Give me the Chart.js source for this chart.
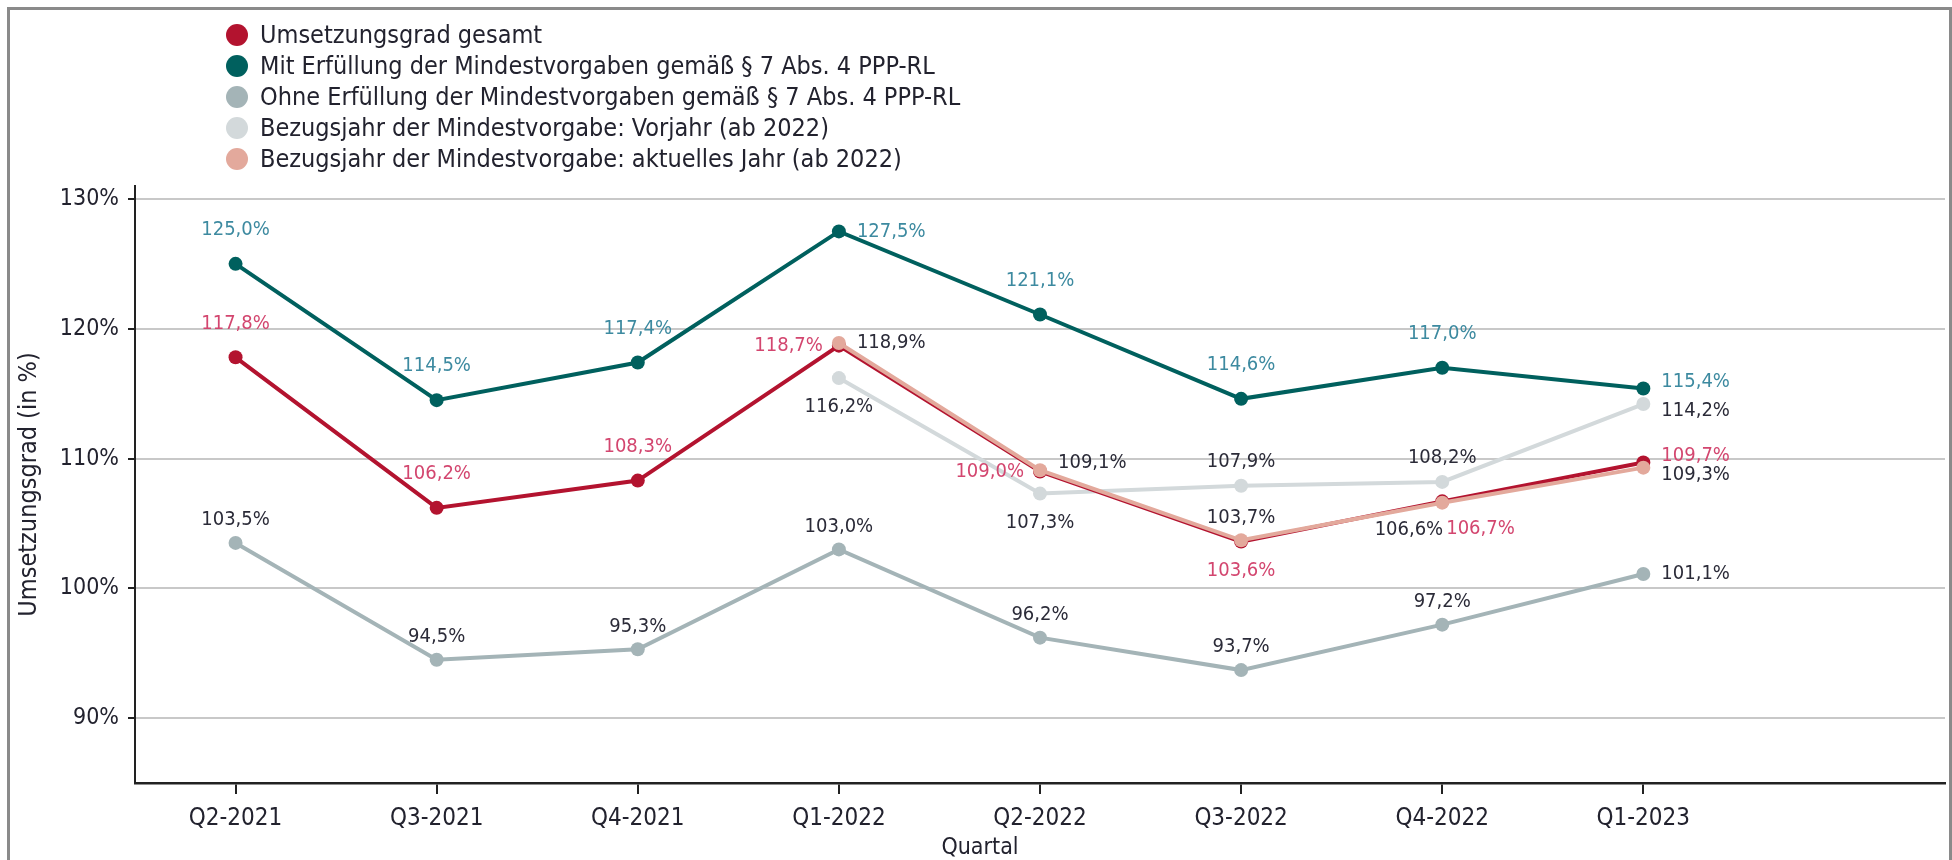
<!DOCTYPE html>
<html lang="de">
<head>
<meta charset="utf-8">
<title>Umsetzungsgrad</title>
<script src="https://cdn.jsdelivr.net/npm/chart.js@4.4.1/dist/chart.umd.min.js"></script>
<style>
  html, body { margin: 0; padding: 0; background: #fff; }
  body { width: 1952px; height: 860px; overflow: hidden; position: relative; font-family: 'DejaVu Sans Condensed', 'Liberation Sans Narrow', sans-serif; }
  .frame { position: absolute; left: 7px; top: 7px; width: 1945px; height: 900px; border: 3px solid #8a8a8a; box-sizing: border-box; pointer-events: none; }
  .chart-wrap { position: absolute; left: 0; top: 0; width: 1952px; height: 860px; }
  .legend { position: absolute; left: 226px; top: 19px; margin: 0; padding: 0; list-style: none; }
  .legend li { height: 31px; display: flex; align-items: center; font-size: 25px; color: #22222e; white-space: nowrap; }
  .legend .dot { width: 22px; height: 22px; border-radius: 50%; margin-right: 12px; flex: none; }
</style>
</head>
<body>
<div class="chart-wrap"><canvas id="chart"></canvas></div>
<ul class="legend" id="legend"></ul>
<div class="frame"></div>
<script>
const QUARTERS = ['Q2-2021', 'Q3-2021', 'Q4-2021', 'Q1-2022', 'Q2-2022', 'Q3-2022', 'Q4-2022', 'Q1-2023'];
const Y_TICKS = [90, 100, 110, 120, 130];

const GESAMT = [117.8, 106.2, 108.3, 118.7, 109.0, 103.6, 106.7, 109.7];
const MIT = [125.0, 114.5, 117.4, 127.5, 121.1, 114.6, 117.0, 115.4];
const OHNE = [103.5, 94.5, 95.3, 103.0, 96.2, 93.7, 97.2, 101.1];
const VORJAHR = [null, null, null, 116.2, 107.3, 107.9, 108.2, 114.2];
const AKTUELL = [null, null, null, 118.9, 109.1, 103.7, 106.6, 109.3];

const NAMES = [
  'Umsetzungsgrad gesamt',
  'Mit Erfüllung der Mindestvorgaben gemäß § 7 Abs. 4 PPP-RL',
  'Ohne Erfüllung der Mindestvorgaben gemäß § 7 Abs. 4 PPP-RL',
  'Bezugsjahr der Mindestvorgabe: Vorjahr (ab 2022)',
  'Bezugsjahr der Mindestvorgabe: aktuelles Jahr (ab 2022)',
];

// where each value label sits relative to its point
const POS_GESAMT = ['t', 't', 't', 'l', 'l', 'b', 'br', 'ru'];
const POS_MIT = ['t', 't', 't', 'r', 't', 't', 't', 'ru'];
const POS_OHNE = ['t', 't', 't', 't', 't', 't', 't', 'r'];
const POS_VORJAHR = [null, null, null, 'b', 'b', 't', 't', 'rd'];
const POS_AKTUELL = [null, null, null, 'r', 'ru', 't', 'bl', 'rd'];

const COLORS = {
  red: '#b3132f',
  teal: '#00605e',
  gray: '#a4b4b7',
  light: '#d3d9db',
  salmon: '#e3a99c',
  labelTeal: '#3d8aa0',
  labelRed: '#d3466f',
  labelDark: '#2b2b38',
};

const FONT = "'DejaVu Sans Condensed', 'Liberation Sans Narrow', sans-serif";

function line(label, data, color, pos, labelColor, topGap, order) {
  return {
    label, data, order,
    borderColor: color,
    backgroundColor: color,
    pointBackgroundColor: color,
    pointBorderWidth: 0,
    pointRadius: 7,
    pointHoverRadius: 7,
    borderWidth: 4,
    tension: 0,
    spanGaps: false,
    labelPos: pos,
    labelColor,
    topGap,
  };
}

const datasets = [
  line(NAMES[0], GESAMT, COLORS.red, POS_GESAMT, COLORS.labelRed, 34, 1),
  line(NAMES[1], MIT, COLORS.teal, POS_MIT, COLORS.labelTeal, 34, 2),
  line(NAMES[2], OHNE, COLORS.gray, POS_OHNE, COLORS.labelDark, 23, 4),
  line(NAMES[3], VORJAHR, COLORS.light, POS_VORJAHR, COLORS.labelDark, 24, 3),
  line(NAMES[4], AKTUELL, COLORS.salmon, POS_AKTUELL, COLORS.labelDark, 23, 0),
];

// legend
const legend = document.getElementById('legend');
datasets.forEach((ds) => {
  const li = document.createElement('li');
  const dot = document.createElement('span');
  dot.className = 'dot';
  dot.style.backgroundColor = ds.borderColor;
  const txt = document.createElement('span');
  txt.textContent = ds.label;
  li.appendChild(dot);
  li.appendChild(txt);
  legend.appendChild(li);
});

const fmt = (v) => v.toFixed(1).replace('.', ',') + '%';

const pointLabels = {
  id: 'pointLabels',
  afterDatasetsDraw(chart) {
    const ctx = chart.ctx;
    ctx.save();
    ctx.font = '20px ' + FONT;
    ctx.textBaseline = 'middle';
    chart.data.datasets.forEach((ds, i) => {
      const meta = chart.getDatasetMeta(i);
      meta.data.forEach((pt, j) => {
        const v = ds.data[j];
        const pos = ds.labelPos[j];
        if (v == null || !pos) return;
        let x = pt.x, y = pt.y, align = 'center';
        if (pos === 't') { y -= ds.topGap; }
        else if (pos === 'b') { y += 29; }
        else if (pos === 'l') { x -= 16; align = 'right'; }
        else if (pos === 'r') { x += 18; align = 'left'; }
        else if (pos === 'ru') { x += 18; y -= 7; align = 'left'; }
        else if (pos === 'rd') { x += 18; y += 7; align = 'left'; }
        else if (pos === 'bl') { x += 1; y += 27; align = 'right'; }
        else if (pos === 'br') { x += 4; y += 27; align = 'left'; }
        ctx.textAlign = align;
        ctx.fillStyle = ds.labelColor;
        ctx.fillText(fmt(v), x, y);
      });
    });
    ctx.restore();
  },
  afterDraw(chart) {
    const ctx = chart.ctx;
    ctx.save();
    ctx.font = '23px ' + FONT;
    ctx.fillStyle = '#22222e';
    ctx.textAlign = 'center';
    ctx.textBaseline = 'middle';
    ctx.fillText('Quartal', chart.width / 2 + 4, 848);
    ctx.restore();
  },
};

new Chart(document.getElementById('chart'), {
  type: 'line',
  data: { labels: [...QUARTERS, ''], datasets },
  plugins: [pointLabels],
  options: {
    responsive: true,
    maintainAspectRatio: false,
    animation: false,
    events: [],
    layout: { padding: { left: 14, top: 186, right: 3, bottom: 0 } },
    plugins: { legend: { display: false }, tooltip: { enabled: false } },
    scales: {
      x: {
        type: 'category',
        offset: true,
        afterFit: (s) => { s.height = 77; },
        grid: {
          drawOnChartArea: false,
          tickLength: 11,
          lineWidth: 2,
          tickColor: (c) => (c.index < QUARTERS.length ? '#222' : 'rgba(0,0,0,0)'),
        },
        border: { color: '#222', width: 2.5 },
        ticks: { font: { family: FONT, size: 24 }, color: '#22222e', padding: 10, autoSkip: false, maxRotation: 0 },
      },
      y: {
        min: 85,
        max: 131,
        afterBuildTicks: (s) => { s.ticks = Y_TICKS.map((v) => ({ value: v })); },
        afterFit: (s) => { s.width = 121; },
        grid: { color: '#c8c8c8', lineWidth: 2, tickLength: 7, tickColor: '#222' },
        border: { color: '#222', width: 2 },
        ticks: { font: { family: FONT, size: 23 }, color: '#22222e', padding: 9, callback: (v) => v + '%' },
        title: { display: true, text: 'Umsetzungsgrad (in %)', font: { family: FONT, size: 25 }, color: '#22222e', padding: 0 },
      },
    },
  },
});
</script>
</body>
</html>
